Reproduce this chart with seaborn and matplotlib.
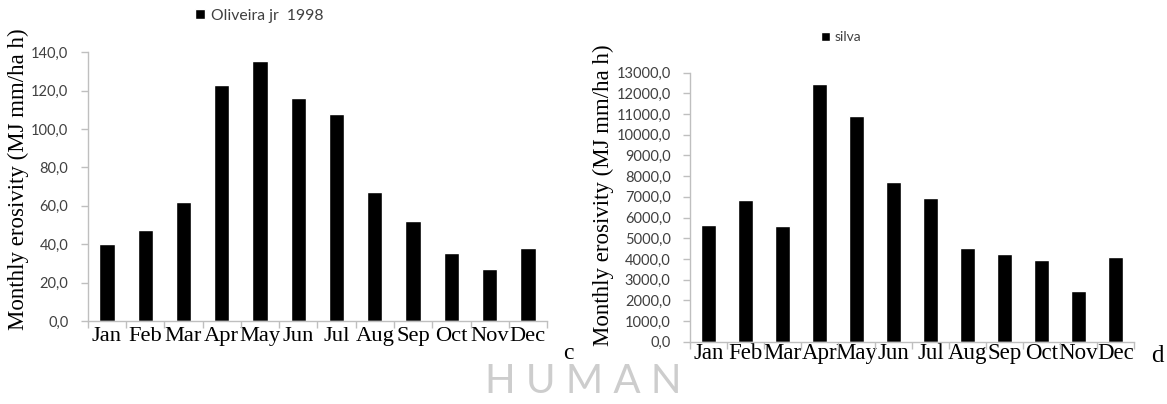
import matplotlib
matplotlib.use("Agg")
import matplotlib.pyplot as plt
from matplotlib.ticker import FuncFormatter, FixedLocator
import seaborn as sns
import pandas as pd

months = ["Jan", "Feb", "Mar", "Apr", "May", "Jun", "Jul", "Aug", "Sep", "Oct", "Nov", "Dec"]
oliveira = [40.3, 47.6, 62.0, 123.0, 135.6, 116.0, 107.9, 67.0, 52.1, 35.4, 26.9, 38.2]
silva = [5650, 6830, 5570, 12460, 10910, 7740, 6940, 4540, 4250, 3960, 2430, 4090]

sns.set_theme(style="white")

AXIS_GREY = "#bfbfbf"
TEXT_GREY = "#404040"

fig = plt.figure(figsize=(11.67, 4.04), dpi=100)
fig.patch.set_facecolor("white")

# faint publisher watermark behind the panels
fig.text(0.4995, 0.055, "H U M A N", ha="center", va="center", fontsize=29,
         color="#cdcdcd", family="Lato", zorder=0)


def comma_fmt(v, _):
    return f"{v:.1f}".replace(".", ",")


def draw_panel(rect, values, series, ymax, ystep, xfont, yfont, ylabel_xy,
               legend_xy, legend_size, xpad):
    ax = fig.add_axes(rect)
    ax.patch.set_alpha(0)
    df = pd.DataFrame({"month": months, "value": values})
    sns.barplot(data=df, x="month", y="value", color="black", width=0.4,
                saturation=1, ax=ax, label=series)
    ax.set_xlim(-0.5, len(months) - 0.5)
    ax.set_ylim(0, ymax)
    ax.yaxis.set_major_locator(FixedLocator(list(range(0, ymax + 1, ystep))))
    ax.yaxis.set_major_formatter(FuncFormatter(comma_fmt))

    for side in ("top", "right"):
        ax.spines[side].set_visible(False)
    for side in ("left", "bottom"):
        ax.spines[side].set_color(AXIS_GREY)
        ax.spines[side].set_linewidth(1.0)

    # category dividers as small outward ticks on the x axis
    ax.xaxis.set_minor_locator(FixedLocator([i - 0.5 for i in range(len(months) + 1)]))
    ax.tick_params(axis="x", which="minor", bottom=True, length=5, width=1,
                   color=AXIS_GREY, direction="out")
    ax.tick_params(axis="x", which="major", bottom=True, length=0, pad=xpad)
    ax.tick_params(axis="y", which="major", left=True, length=5, width=1,
                   color=AXIS_GREY, direction="out", pad=9)

    for lab in ax.get_xticklabels():
        lab.set_family("Liberation Serif")
        lab.set_fontsize(xfont)
        lab.set_color("black")
    for lab in ax.get_yticklabels():
        lab.set_family("Lato")
        lab.set_fontsize(yfont)
        lab.set_color(TEXT_GREY)

    ax.set_xlabel("")
    ax.set_ylabel("Monthly erosivity (MJ mm/ha h)", family="Liberation Serif",
                  fontsize=16.5, color="black")
    ax.yaxis.set_label_coords(*ylabel_xy)

    leg = ax.legend(loc="center", bbox_to_anchor=legend_xy,
                    bbox_transform=fig.transFigure, frameon=False,
                    handlelength=0.65, handleheight=0.65, handletextpad=0.35,
                    prop={"family": "Lato", "size": legend_size})
    for t in leg.get_texts():
        t.set_color(TEXT_GREY)
    return ax


draw_panel([0.0752, 0.2054, 0.3936, 0.6651], oliveira, "Oliveira jr  1998",
           140, 20, 16.2, 10.5, (-0.128, 0.527), (0.222, 0.961), 11.3, 4)
draw_panel([0.5913, 0.1542, 0.3805, 0.6658], silva, "silva",
           13000, 1000, 16.5, 10.5, (-0.171, 0.5435), (0.7207, 0.9077), 10, 1)

fig.text(0.487, 0.125, "c", family="Liberation Serif", fontsize=17,
         ha="center", va="center", color="black")
fig.text(0.992, 0.12, "d", family="Liberation Serif", fontsize=18,
         ha="center", va="center", color="black")

fig.savefig("out.png", dpi=100, facecolor="white")
